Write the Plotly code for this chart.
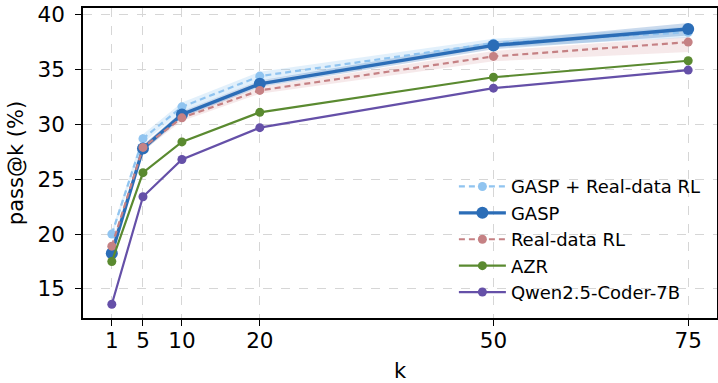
import plotly.graph_objects as go

k = [1, 5, 10, 20, 50, 75]
x_ticks = [1, 5, 10, 20, 50, 75]
y_ticks = [15, 20, 25, 30, 35, 40]

gasp_real = [20.0, 28.7, 31.6, 34.4, 37.4, 38.4]
gasp_real_lo = [19.7, 28.3, 31.2, 34.0, 37.0, 37.9]
gasp_real_hi = [20.3, 29.1, 32.0, 34.8, 37.8, 38.9]

gasp = [18.25, 27.8, 30.9, 33.7, 37.2, 38.7]
gasp_lo = [18.05, 27.5, 30.6, 33.4, 36.85, 38.1]
gasp_hi = [18.45, 28.1, 31.2, 34.0, 37.55, 39.25]

real = [18.9, 27.9, 30.6, 33.1, 36.2, 37.5]
real_lo = [18.6, 27.6, 30.3, 32.8, 35.75, 36.6]
real_hi = [19.2, 28.2, 30.9, 33.4, 36.7, 38.0]

azr = [17.5, 25.6, 28.4, 31.1, 34.3, 35.8]
qwen = [13.6, 23.4, 26.8, 29.7, 33.3, 34.95]

fig = go.Figure()

def band(lo, hi, color):
    fig.add_trace(go.Scatter(x=k, y=hi, mode="lines", line=dict(width=0),
                             showlegend=False, hoverinfo="skip"))
    fig.add_trace(go.Scatter(x=k, y=lo, mode="lines", line=dict(width=0),
                             fill="tonexty", fillcolor=color,
                             showlegend=False, hoverinfo="skip"))

band(real_lo, real_hi, "rgba(192,110,115,0.15)")
band(gasp_real_lo, gasp_real_hi, "rgba(140,195,240,0.25)")
band(gasp_lo, gasp_hi, "rgba(42,109,184,0.25)")

fig.add_trace(go.Scatter(x=k, y=gasp_real, name="GASP + Real-data RL", mode="lines+markers",
                         legendgroup="a",
                         line=dict(color="#90c4f0", width=2.2, dash="6px,4px"),
                         marker=dict(color="#90c4f0", size=9)))
fig.add_trace(go.Scatter(x=k, y=gasp, name="GASP", mode="lines+markers",
                         legendgroup="b",
                         line=dict(color="#2b6db7", width=3.4),
                         marker=dict(color="#2b6db7", size=12)))
fig.add_trace(go.Scatter(x=k, y=real, name="Real-data RL", mode="lines+markers",
                         legendgroup="c",
                         line=dict(color="#c58184", width=2.2, dash="6px,4px"),
                         marker=dict(color="#c58184", size=9)))
fig.add_trace(go.Scatter(x=k, y=azr, name="AZR", mode="lines+markers",
                         legendgroup="d",
                         line=dict(color="#5a8a30", width=2.2),
                         marker=dict(color="#5a8a30", size=9)))
fig.add_trace(go.Scatter(x=k, y=qwen, name="Qwen2.5-Coder-7B", mode="lines+markers",
                         legendgroup="e",
                         line=dict(color="#6550a8", width=2.2),
                         marker=dict(color="#6550a8", size=9)))

axis_common = dict(showline=True, linecolor="black", linewidth=1.5, mirror=True,
                   ticks="outside", ticklen=6, tickwidth=1.2, tickcolor="black",
                   showgrid=True, gridcolor="#d6d6d6", griddash="dash", gridwidth=1.2,
                   zeroline=False, automargin=False,
                   tickfont=dict(size=21.5, color="black"))

fig.update_layout(
    width=718, height=383,
    margin=dict(l=83, r=1, t=8, b=65),
    paper_bgcolor="white", plot_bgcolor="white",
    font=dict(family="DejaVu Sans", color="black"),
    xaxis=dict(range=[-2.7, 78.7], tickvals=x_ticks, ticklabelstandoff=-4,
               title=dict(text="k", font=dict(size=21)), **axis_common),
    yaxis=dict(range=[12.35, 40.61], tickvals=y_ticks, ticklabelstandoff=6,
               title=dict(text="pass@k (%)", font=dict(size=21), standoff=8), **axis_common),
    legend=dict(x=0.585, xanchor="left", y=0.025, yanchor="bottom",
                bgcolor="rgba(0,0,0,0)", font=dict(size=18),
                itemwidth=47, tracegroupgap=2, traceorder="normal"),
)

fig.write_html("out.html", config={"displayModeBar": False},
               post_script="document.body.style.margin='0px';")
